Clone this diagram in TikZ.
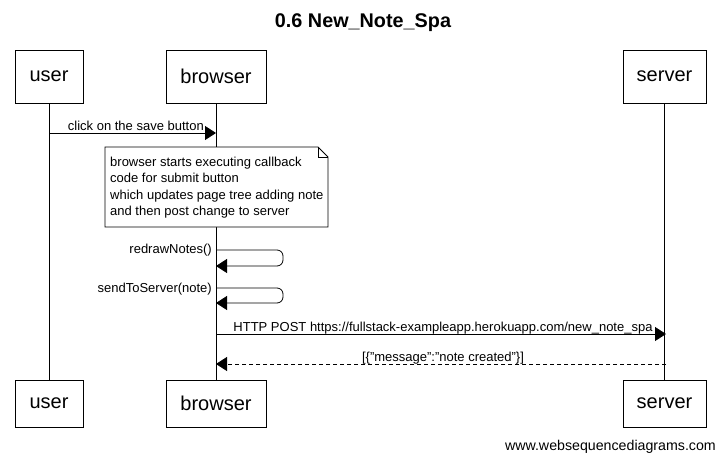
\documentclass[tikz,border=0pt]{standalone}
\usepackage{fontspec}
\setmainfont{Liberation Sans}
\usetikzlibrary{arrows.meta}
\begin{document}
\begin{tikzpicture}[x=1pt,y=-1pt,
  actor/.style={draw,line width=0.8pt,minimum height=53pt,inner sep=0pt,font=\fontsize{20}{24}\selectfont,anchor=center},
  life/.style={line width=0.8pt},
  msg/.style={line width=0.8pt,-{Triangle[length=11pt,width=14pt]}},
  lbl/.style={font=\fontsize{13}{15}\selectfont,inner sep=0pt},
]
\useasboundingbox (0,0) rectangle (725,461);
\node[font=\fontsize{19.8}{24}\selectfont\bfseries] (title) at (363,23) {0.6 New\_Note\_Spa};
% top actors
\node[actor,minimum width=68pt] (ut) at (49,76.5) {user};
\node[actor,minimum width=100pt] (bt) at (216,76.5) {browser};
\node[actor,minimum width=83pt] (st) at (664.5,76.5) {server};
% bottom actors
\node[actor,minimum width=68pt,minimum height=47pt] (ub) at (49,403.5) {user};
\node[actor,minimum width=100pt,minimum height=47pt] (bb) at (216,403.5) {browser};
\node[actor,minimum width=83pt,minimum height=47pt] (sb) at (664.5,403.5) {server};
% lifelines
\draw[life] (ut.south) -- (ub.north);
\draw[life] (bt.south) -- (bb.north);
\draw[life] (st.south) -- (sb.north);
% message 1
\coordinate (m1a) at (49,133);
\coordinate (m1b) at (216,133);
\draw[msg] (m1a) -- (m1b);
\node[lbl,anchor=base east] (l1) at (204,130) {click on the save button};
% note
\draw[line width=0.8pt,fill=white] (105,147) -- (318,147) -- (328,157) -- (328,227) -- (105,227) -- cycle;
\draw[line width=0.8pt] (318,147) -- (318,157) -- (328,157);
\node[lbl,anchor=north west,align=left,font=\fontsize{13}{16.3}\selectfont] (note) at (110,157)
 {browser starts executing callback\\code for submit button\\which updates page tree adding note\\and then post change to server};
% self messages
\coordinate (r1) at (216,250);
\coordinate (r2) at (216,266);
\draw[msg,rounded corners=6pt] (r1) -- (283,250) -- (283,266) -- (r2);
\node[lbl,anchor=base east] (l2) at (212,253) {redrawNotes()};
\coordinate (s1) at (216,288);
\coordinate (s2) at (216,303);
\draw[msg,rounded corners=6pt] (s1) -- (283,288) -- (283,303) -- (s2);
\node[lbl,anchor=base east] (l3) at (212,292) {sendToServer(note)};
% HTTP POST
\coordinate (p1) at (216,334);
\coordinate (p2) at (666,334);
\draw[msg] (p1) -- (p2);
\node[lbl,anchor=base] (l4) at (443,331) {HTTP POST https://fullstack-exampleapp.herokuapp.com/new\_note\_spa};
% return
\coordinate (q1) at (666,364);
\coordinate (q2) at (216,364);
\draw[msg,dash pattern=on 4pt off 3pt] (q1) -- (q2);
\node[lbl,anchor=base] (l5) at (443,361) {[\{"message":"note created"\}]};
% footer
\node[font=\fontsize{14.2}{17}\selectfont,anchor=base east,inner sep=0pt] (foot) at (716,450) {www.websequencediagrams.com};
\end{tikzpicture}
\end{document}
